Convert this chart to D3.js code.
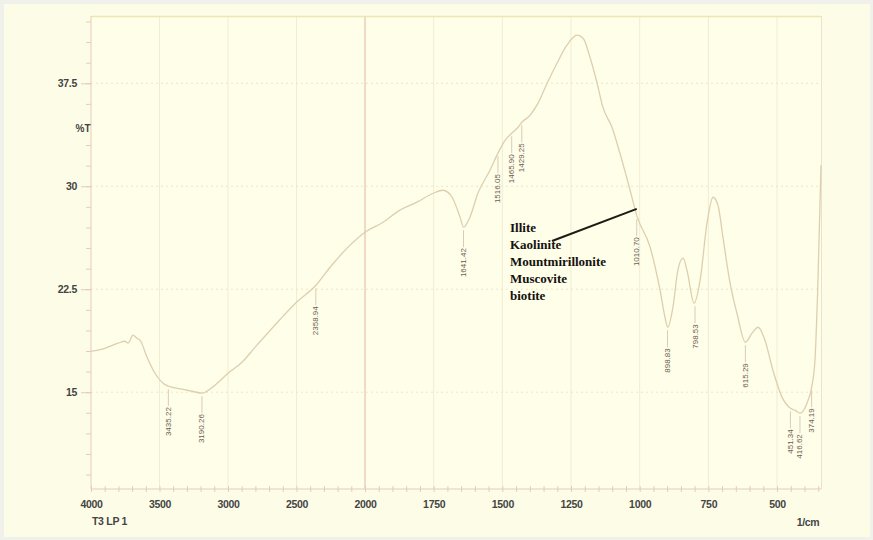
<!DOCTYPE html>
<html>
<head>
<meta charset="utf-8">
<script src="https://cdn.jsdelivr.net/npm/d3@7"></script>
<style>
html,body{margin:0;padding:0;background:#f1f1ec;}
svg{display:block;}
</style>
</head>
<body>
<svg id="chart" width="873" height="540"></svg>
<script>
// ---- data ----
const wavenumbers = [4000,3898,3803,3752,3730,3693,3664,3642,3591,3533,3474,3435,3336,3263,3190,3095,3000,2898,2800,2620,2500,2358,2255,2109,2000,1934,1873,1811,1752,1716,1683,1654,1641,1618,1589,1545,1516,1490,1466,1443,1429,1399,1370,1337,1301,1265,1228,1206,1181,1155,1134,1101,1072,1035,1010,962,926,908,898,879,861,842,828,802,780,755,733,715,697,671,646,615,591,569,544,515,482,451,435,416,391,374,362,351,340];
const transmittance = [17.99,18.20,18.57,18.71,18.57,19.15,18.93,18.79,17.55,16.38,15.66,15.44,15.22,15.07,14.93,15.51,16.38,17.18,18.30,20.30,21.55,22.79,24.10,25.71,26.65,27.38,28.26,28.84,29.49,29.71,29.20,27.75,27.02,27.75,29.49,31.17,32.41,33.35,33.86,34.30,34.66,35.17,36.05,37.50,38.96,40.27,41.00,40.78,39.40,37.50,35.76,34.30,32.41,29.71,27.82,25.56,22.43,20.46,19.73,21.19,23.89,24.76,23.89,21.48,23.16,27.31,29.20,28.62,26.29,22.94,20.75,18.64,19.30,19.73,18.79,16.60,14.64,13.83,13.69,13.47,14.20,15.36,17.33,23.16,31.53];

const peakPositions = [3435.22,3190.26,2358.94,1641.42,1516.05,1465.90,1429.25,1010.70,898.83,798.53,615.29,451.34,416.62,374.19];
const peakValues    = [15.44,14.93,22.79,27.02,32.41,33.86,34.66,27.82,19.73,21.48,18.64,13.83,13.47,15.36];

const xTickLabels = [4000,3500,3000,2500,2000,1750,1500,1250,1000,750,500];
const yTickLabels = [15,22.5,30,37.5];
const mineralNames = ["Illite","Kaolinite","Mountmirillonite","Muscovite","biotite"];
const sampleName = "T3 LP 1";
const xUnit = "1/cm";
const yUnit = "%T";

// ---- layout ----
const L = 91, R = 821, T = 16, B = 489;
const svg = d3.select("#chart");

const x = d3.scaleLinear().domain([4000,2000,340]).range([L,365,R]);
const y = d3.scaleLinear().domain([7.95,42.4]).range([B,T]);

// backgrounds
svg.append("rect").attr("x",0).attr("y",0).attr("width",873).attr("height",540).attr("fill","#f1f1ec");
svg.append("rect").attr("x",4).attr("y",4).attr("width",866).attr("height",533).attr("fill","#fdfde7");
svg.append("rect").attr("x",L).attr("y",T).attr("width",R-L).attr("height",B-T).attr("fill","#fefee9");

// vertical grid at major x ticks
svg.append("g").selectAll("line").data(xTickLabels.filter(d=>d!==4000 && d!==2000)).join("line")
  .attr("x1",d=>x(d)).attr("x2",d=>x(d)).attr("y1",T).attr("y2",B)
  .attr("stroke","#f1edd2").attr("stroke-width",1);

// horizontal dotted grid
svg.append("g").selectAll("line").data(yTickLabels).join("line")
  .attr("x1",L).attr("x2",R).attr("y1",d=>y(d)).attr("y2",d=>y(d))
  .attr("stroke","#ebe6c8").attr("stroke-width",1).attr("stroke-dasharray","2,3");

// red 2000 line
svg.append("line").attr("x1",x(2000)).attr("x2",x(2000)).attr("y1",T).attr("y2",B)
  .attr("stroke","#e6b4a4").attr("stroke-width",1);

// frame
svg.append("line").attr("x1",L).attr("x2",R).attr("y1",T+0.5).attr("y2",T+0.5).attr("stroke","#ece6b4").attr("stroke-width",1.5);
svg.append("line").attr("x1",R+0.5).attr("x2",R+0.5).attr("y1",T).attr("y2",B).attr("stroke","#ece2cc").attr("stroke-width",1);

// y axis
const yMinor = d3.range(9,42.1,1.5);
const yAxis = d3.axisLeft(y).tickValues(yMinor).tickSize(5).tickFormat("");
const gy = svg.append("g").attr("transform",`translate(${L},0)`).call(yAxis);
gy.selectAll("path,line").attr("stroke","#e6cbbb");
gy.select(".domain").attr("d",`M0,${T}V${B}`);
const yLab = d3.axisLeft(y).tickValues(yTickLabels).tickSize(10).tickFormat(d=>d);
const gy2 = svg.append("g").attr("transform",`translate(${L},0)`).call(yLab);
gy2.select(".domain").remove();
gy2.selectAll("line").attr("stroke","#e6cbbb");
gy2.selectAll("text").attr("x",-14).attr("fill","#444").attr("font-family","Liberation Sans, Arial, sans-serif")
  .attr("font-size",10.5).attr("font-weight","bold").attr("letter-spacing","-0.3");

svg.append("text").attr("x",83).attr("y",y(34.2)).attr("text-anchor","middle").attr("dominant-baseline","central")
  .attr("fill","#444").attr("font-family","Liberation Sans, Arial, sans-serif").attr("font-size",10).attr("font-weight","bold").text(yUnit);

// x axis
const xMinor = d3.range(4000,2000,-100).concat(d3.range(2000,340,-50));
const xAxis = d3.axisBottom(x).tickValues(xMinor).tickSize(4).tickFormat("");
const gx = svg.append("g").attr("transform",`translate(0,${B})`).call(xAxis);
gx.selectAll("line").attr("y1",-3).attr("y2",3).attr("stroke","#e6cbbb");
gx.select(".domain").attr("d",`M${L},0H${R}`).attr("stroke","#e6cbbb");
const xLab = d3.axisBottom(x).tickValues(xTickLabels).tickSize(0).tickPadding(12).tickFormat(d=>d);
const gx2 = svg.append("g").attr("transform",`translate(0,${B})`).call(xLab);
gx2.select(".domain").remove();
gx2.selectAll("text").attr("fill","#444").attr("font-family","Liberation Sans, Arial, sans-serif")
  .attr("font-size",10.5).attr("font-weight","bold").attr("letter-spacing","-0.3");

svg.append("text").attr("x",L+1).attr("y",525).attr("fill","#444").attr("font-family","Liberation Sans, Arial, sans-serif")
  .attr("font-size",10.5).attr("font-weight","bold").attr("letter-spacing","-0.3").text(sampleName);
svg.append("text").attr("x",808).attr("y",526).attr("text-anchor","middle").attr("fill","#444").attr("font-family","Liberation Sans, Arial, sans-serif")
  .attr("font-size",10.5).attr("font-weight","bold").attr("letter-spacing","-0.3").text(xUnit);

// spectrum
const pts = wavenumbers.map((w,i)=>[w,transmittance[i]]);
const line = d3.line().x(d=>x(d[0])).y(d=>y(d[1])).curve(d3.curveMonotoneX);
svg.append("path").datum(pts).attr("d",line).attr("fill","none").attr("stroke","#ddcfae").attr("stroke-width",1.3);

// peak labels
const peaks = peakPositions.map((p,i)=>({p,v:peakValues[i]}));
const pg = svg.append("g");
pg.selectAll("line").data(peaks).join("line")
  .attr("x1",d=>x(d.p)).attr("x2",d=>x(d.p))
  .attr("y1",d=>y(d.v)+3).attr("y2",d=>y(d.v)+20)
  .attr("stroke","#d9ccb4").attr("stroke-width",1);
pg.selectAll("text").data(peaks).join("text")
  .attr("transform",d=>`translate(${x(d.p)},${y(d.v)+21}) rotate(-90)`)
  .attr("text-anchor","end").attr("dominant-baseline","central")
  .attr("fill","#6e5c50").attr("font-family","Liberation Sans, Arial, sans-serif").attr("font-size",8)
  .text(d=>d.p.toFixed(2));

// mineral annotation
svg.append("g").selectAll("text").data(mineralNames).join("text")
  .attr("x",510).attr("y",(d,i)=>227+i*17.2).attr("dominant-baseline","central")
  .attr("fill","#15110e").attr("font-family","Liberation Serif, 'Times New Roman', serif").attr("font-size",13).attr("font-weight","bold")
  .text(d=>d);
svg.append("line").attr("x1",552).attr("y1",241).attr("x2",x(1010.70)).attr("y2",y(28.35))
  .attr("stroke","#1e1a16").attr("stroke-width",2);
</script>
</body>
</html>
